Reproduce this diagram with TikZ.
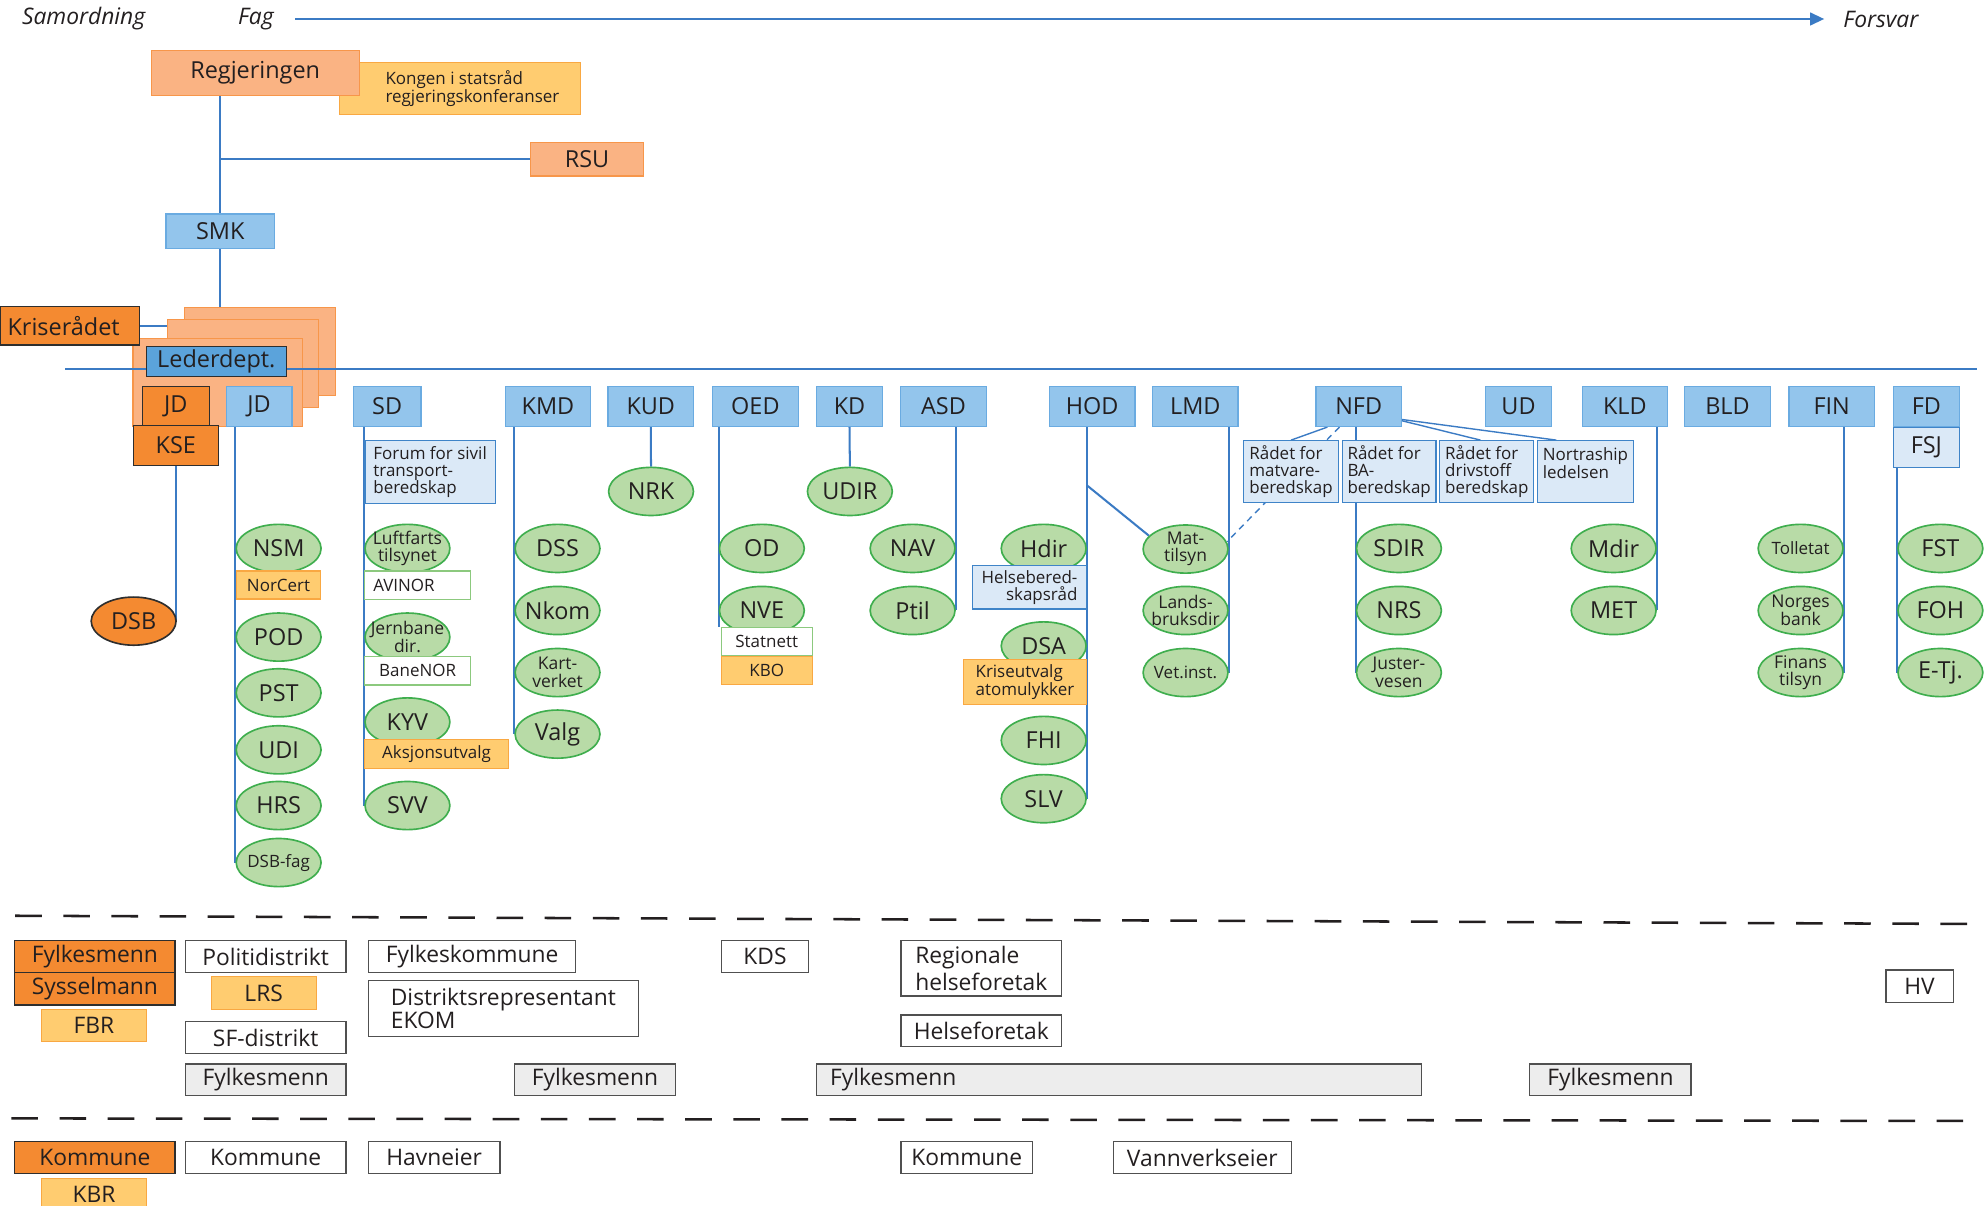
\documentclass[tikz,border=0pt]{standalone}
\usepackage{fontspec}
\setmainfont{Open Sans}
\usetikzlibrary{shapes.geometric, arrows.meta}
\pgfdeclarelayer{bg}
\pgfsetlayers{bg,main}

\definecolor{govfill}{HTML}{FAB383}
\definecolor{govline}{HTML}{F7964A}
\definecolor{krisefill}{HTML}{F48A31}
\definecolor{darkline}{HTML}{2E2E2E}
\definecolor{suppfill}{HTML}{FFCC70}
\definecolor{suppline}{HTML}{F9A842}
\definecolor{deptfill}{HTML}{93C5EC}
\definecolor{deptline}{HTML}{6AABE1}
\definecolor{leadfill}{HTML}{5BA3DB}
\definecolor{councilfill}{HTML}{DBE9F7}
\definecolor{councilline}{HTML}{3F84C8}
\definecolor{agfill}{HTML}{B8DBA7}
\definecolor{agline}{HTML}{3FAE4E}
\definecolor{compline}{HTML}{8CC97E}
\definecolor{connblue}{HTML}{3B7BC4}
\definecolor{txt}{HTML}{231F20}
\definecolor{greyfill}{HTML}{EDEDED}
\definecolor{localline}{HTML}{505050}

\newcommand{\fbig}{\fontsize{18.5}{20}\selectfont}
\newcommand{\fsmall}{\fontsize{13.4}{13.6}\selectfont}
\newcommand{\flocal}{\fontsize{18}{20}\selectfont}
\newcommand{\fhead}{\fontsize{18}{20}\selectfont}

\tikzset{
  basebox/.style={draw, line width=0.9pt, inner sep=0pt, text=txt, font=\fbig},
  gov/.style={basebox, draw=govline, fill=govfill},
  krise/.style={basebox, draw=darkline, fill=krisefill},
  supp/.style={basebox, draw=suppline, fill=suppfill, font=\fsmall},
  dept/.style={basebox, draw=deptline, fill=deptfill, minimum width=67.5pt, minimum height=31.5pt},
  council/.style={basebox, draw=councilline, fill=councilfill, font=\fsmall, align=left, minimum height=49pt},
  company/.style={basebox, draw=compline, fill=white, font=\fsmall, minimum width=83.4pt, minimum height=22.2pt},
  agency/.style={ellipse, draw=agline, fill=agfill, line width=1.3pt, minimum width=67pt, minimum height=38pt,
    inner xsep=-5pt, inner ysep=0pt, text=txt, font=\fbig},
  twoline/.style={font=\fontsize{13.8}{13.8}\selectfont, align=center, inner xsep=-6pt, inner ysep=-2pt},
  localbox/.style={basebox, draw=localline, fill=white, font=\flocal, minimum height=25pt},
  greybox/.style={localbox, fill=greyfill},
  conn/.style={draw=connblue, line width=1.6pt},
  levelsep/.style={draw=txt, line width=2pt, dash pattern=on 21pt off 17pt},
  heading/.style={font=\fhead\itshape, text=txt, inner sep=0pt}
}

\begin{document}
\begin{tikzpicture}[x=1pt, y=-1pt]
      \useasboundingbox (0,0) rectangle (1568,952);
      \begin{pgfonlayer}{bg}
        \fill[white] (0,0) rectangle (1568,952);
      \end{pgfonlayer}

      % Define nodes
      \node[heading] (samordning) at (66,15) {Samordning};
      \node[heading] (fag) at (202,15) {Fag};
      \node[heading] (forsvar) at (1485,15) {Forsvar};

      \node[supp, minimum width=190pt, minimum height=41pt, align=left] (kongen) at (363,69.9)
        {\hspace*{20pt}Kongen i statsråd\\\hspace*{20pt}regjeringskonferanser};
      \node[gov, minimum width=164pt, minimum height=35.5pt] (regjeringen) at (201.5,57.8) {Regjeringen};
      \node[gov, minimum width=89pt, minimum height=26.4pt] (rsu) at (463.5,125.8) {RSU};
      \node[dept, minimum width=85.7pt, minimum height=27pt] (smk) at (173.9,182.5) {SMK};

      \node[krise, minimum width=110pt, minimum height=30.6pt, text width=98pt, inner xsep=6pt, align=left] (kriseradet) at (55,257.1) {Kriserådet};
      \node[dept, fill=leadfill, draw=darkline, minimum width=110.4pt, minimum height=23.7pt] (lederdept) at (170.8,285.5) {Lederdept.};
      \node[krise, minimum width=53pt, minimum height=30.7pt] (jdk) at (138.8,320.7) {JD};
      \node[krise, minimum width=67pt, minimum height=31.6pt] (kse) at (138.8,351.8) {KSE};
      \node[agency, fill=krisefill, draw=darkline] (dsb) at (105.5,490.4) {DSB};

      % Departments
      \node[dept, minimum width=52pt] (jd) at (204.5,321) {JD};
      \node[dept, minimum width=53.4pt] (sd) at (305.7,321) {SD};
      \node[dept] (kmd) at (432.6,321) {KMD};
      \node[dept] (kud) at (513.8,321) {KUD};
      \node[dept] (oed) at (596.4,321) {OED};
      \node[dept, minimum width=52.7pt] (kd) at (670.7,321) {KD};
      \node[dept] (asd) at (744.9,321) {ASD};
      \node[dept] (hod) at (862.3,321) {HOD};
      \node[dept] (lmd) at (943.7,321) {LMD};
      \node[dept] (nfd) at (1072.7,321) {NFD};
      \node[dept, minimum width=52.2pt] (ud) at (1198.9,321) {UD};
      \node[dept] (kld) at (1282.9,321) {KLD};
      \node[dept] (bld) at (1363.9,321) {BLD};
      \node[dept] (fin) at (1446.2,321) {FIN};
      \node[dept, minimum width=52.3pt] (fd) at (1520.9,321) {FD};
      \node[council, font=\fbig, align=center, minimum width=52.3pt, minimum height=31.8pt] (fsj) at (1520.9,353.3) {FSJ};

      % JD
      \node[agency] (nsm) at (220,433) {NSM};
      \node[supp, minimum width=66.3pt, minimum height=22.1pt] (norcert) at (219.9,461.9) {NorCert};
      \node[agency] (pod) at (220,503) {POD};
      \node[agency] (pst) at (220,547) {PST};
      \node[agency] (udi) at (220,592) {UDI};
      \node[agency] (hrs) at (220,636) {HRS};
      \node[agency, font=\fsmall] (dsbfag) at (220,681) {DSB-fag};

      % SD
      \node[council, minimum width=102.8pt, minimum height=49.5pt] (forum) at (339.6,372.7) {Forum for sivil\\transport-\\beredskap};
      \node[agency, twoline] (luftfart) at (321.7,433) {Luftfarts\\tilsynet};
      \node[company, text width=70pt, inner xsep=6.7pt, align=left] (avinor) at (329.7,461.9) {AVINOR};
      \node[agency, twoline] (jernbane) at (321.7,503) {Jernbane\\dir.};
      \node[company] (banenor) at (329.7,529.7) {BaneNOR};
      \node[agency] (kyv) at (321.7,570) {KYV};
      \node[supp, minimum width=113.3pt, minimum height=22.9pt] (aksjon) at (344.7,595.2) {Aksjonsutvalg};
      \node[agency] (svv) at (321.7,636) {SVV};

      % KMD, KUD, OED, KD, ASD
      \node[agency] (dss) at (440.2,433) {DSS};
      \node[agency] (nkom) at (440.2,482) {Nkom};
      \node[agency, twoline] (kartverket) at (440.2,531) {Kart-\\verket};
      \node[agency] (valg) at (440.2,579.6) {Valg};
      \node[agency] (nrk) at (514,388) {NRK};
      \node[agency] (od) at (601.5,433) {OD};
      \node[agency] (nve) at (601.5,482) {NVE};
      \node[company, minimum width=72pt, minimum height=22pt] (statnett) at (605.3,506.6) {Statnett};
      \node[supp, minimum width=72pt, minimum height=22pt] (kbo) at (605.3,529.4) {KBO};
      \node[agency] (udir) at (671,388) {UDIR};
      \node[agency] (nav) at (720.5,433) {NAV};
      \node[agency] (ptil) at (720.5,482) {Ptil};

      % HOD, LMD
      \node[agency] (hdir) at (824,433) {Hdir};
      \node[council, align=right, minimum width=89.4pt, minimum height=34pt] (helserad) at (812.8,463.8) {Helsebered-\\skapsråd};
      \node[agency] (dsa) at (824,510) {DSA};
      \node[supp, align=left, minimum width=97.3pt, minimum height=35pt] (kriseutvalg) at (809.2,538.5) {Kriseutvalg\\atomulykker};
      \node[agency] (fhi) at (824,584.6) {FHI};
      \node[agency] (slv) at (824,630.6) {SLV};
      \node[agency, twoline] (mattilsyn) at (936,433.5) {Mat-\\tilsyn};
      \node[agency, twoline] (landsbruk) at (936,482) {Lands-\\bruksdir};
      \node[agency, font=\fsmall] (vetinst) at (936,531) {Vet.inst.};

      % NFD
      \node[council, minimum width=74.7pt, minimum height=48.9pt] (matvare) at (1019.3,372.4) {Rådet for\\matvare-\\beredskap};
      \node[council, minimum width=73.9pt, minimum height=48.9pt] (ba) at (1096.8,372.4) {Rådet for\\BA-\\beredskap};
      \node[council, minimum width=74.3pt, minimum height=48.9pt] (drivstoff) at (1173.9,372.4) {Rådet for\\drivstoff\\beredskap};
      \node[council, minimum width=75.6pt, minimum height=48.9pt] (nortraship) at (1251.8,372.4) {Nortraship\\ledelsen\\\mbox{}};
      \node[agency] (sdir) at (1104.5,433) {SDIR};
      \node[agency] (nrs) at (1104.5,482) {NRS};
      \node[agency, twoline] (justervesen) at (1104.5,531) {Juster-\\vesen};

      % KLD, FIN, FD
      \node[agency] (mdir) at (1274,433) {Mdir};
      \node[agency] (met) at (1274,482) {MET};
      \node[agency, font=\fsmall] (tolletat) at (1421.6,433) {Tolletat};
      \node[agency, twoline] (norgesbank) at (1421.6,482) {Norges\\bank};
      \node[agency, twoline] (finanstilsyn) at (1421.6,531) {Finans\\tilsyn};
      \node[agency] (fst) at (1532,433) {FST};
      \node[agency] (foh) at (1532,482) {FOH};
      \node[agency] (etj) at (1532,531) {E-Tj.};

      % Regional and local level
      \node[krise, font=\flocal, minimum width=126.6pt, minimum height=25pt] (fylkesmannK) at (74.9,755.2) {Fylkesmenn};
      \node[krise, font=\flocal, minimum width=126.6pt, minimum height=25.8pt] (sysselmann) at (74.9,780.6) {Sysselmann};
      \node[supp, font=\flocal, minimum width=82.8pt, minimum height=25.4pt] (fbr) at (74.2,809.7) {FBR};
      \node[localbox, minimum width=126.9pt] (politi) at (209.75,755.2) {Politidistrikt};
      \node[supp, font=\flocal, minimum width=82.9pt, minimum height=26pt] (lrs) at (208.2,784) {LRS};
      \node[localbox, minimum width=126.9pt] (sfdistrikt) at (209.75,819.1) {SF-distrikt};
      \node[greybox, minimum width=126.9pt] (fylkesmannA) at (209.75,852.6) {Fylkesmenn};
      \node[localbox, minimum width=163.9pt] (fylkeskommune) at (372.75,755.2) {Fylkeskommune};
      \node[localbox, align=left, minimum width=213.2pt, minimum height=44.2pt, font=\fontsize{18}{18.5}\selectfont] (ekom) at (397.4,796.4) {Distriktsrepresentant\\EKOM};
      \node[greybox, minimum width=126.6pt] (fylkesmannB) at (469.7,852.6) {Fylkesmenn};
      \node[localbox, minimum width=68.8pt] (kds) at (604,755.3) {KDS};
      \node[localbox, align=left, minimum width=126.9pt, minimum height=43.7pt, font=\fontsize{18}{21}\selectfont] (regionale) at (774.75,764.5) {Regionale\\helseforetak};
      \node[localbox, minimum width=126.9pt] (helseforetak) at (774.75,813.9) {Helseforetak};
      \node[greybox, text width=456pt, inner xsep=11pt, align=left] (fylkesmannC) at (883.45,852.6) {Fylkesmenn};
      \node[greybox, minimum width=127.2pt] (fylkesmannD) at (1271.5,852.6) {Fylkesmenn};
      \node[localbox, minimum width=53pt, minimum height=25.7pt] (hv) at (1515.5,778.7) {HV};
      \node[krise, font=\flocal, minimum width=126.6pt, minimum height=25pt] (kommuneK) at (74.9,913.9) {Kommune};
      \node[supp, font=\flocal, minimum width=82.8pt, minimum height=25pt] (kbr) at (74.2,942.7) {KBR};
      \node[localbox, minimum width=126.9pt] (kommuneA) at (209.75,913.9) {Kommune};
      \node[localbox, minimum width=104pt] (havneier) at (342.8,913.9) {Havneier};
      \node[localbox, minimum width=104pt] (kommuneB) at (763.3,913.9) {Kommune};
      \node[localbox, minimum width=141pt] (vannverk) at (949.3,913.9) {Vannverkseier};

      % Level lines
      \draw[conn, -{Triangle[length=11pt, width=10pt]}] ([xshift=17pt]fag.east) -- ([xshift=-15pt]forsvar.west);
      \coordinate (sepAL) at (12,723);
      \coordinate (sepAR) at (1558,729.5);
      \coordinate (sepBL) at (9,883);
      \coordinate (sepBR) at (1555,885);
      \draw[levelsep] (sepAL) -- (sepAR);
      \draw[levelsep] (sepBL) -- (sepBR);

      \begin{pgfonlayer}{bg}
        \node[gov, minimum width=119.5pt, minimum height=69.8pt] (stackA) at (205.3,277.5) {};
        \node[gov, minimum width=119.5pt, minimum height=69.6pt] (stackB) at (191.8,286.8) {};
        \node[gov, minimum width=134pt, minimum height=70pt] (stackC) at (172,302) {};
        \coordinate (levelL) at (51.5,291.3);
        \coordinate (levelR) at (1561,291.3);
        \draw[conn] (levelL) -- (levelR);

        % Connect nodes
        \coordinate (rsubranch) at (smk.north |- rsu.west);
        \draw[conn] (smk.north) -- (smk.north |- regjeringen.south);
        \draw[conn] (rsubranch) -- (rsu.west);
        \draw[conn] (smk.south) -- (smk.south |- stackA.north);
        \draw[conn] (kriseradet.east) -- (kriseradet.east -| stackB.west);
        \draw[conn] (kse.south) -- (kse.south |- dsb.east);

        \draw[conn] (jd.south -| dsbfag.west) -- (dsbfag.west);
        \draw[conn] (sd.south -| svv.west) -- (svv.west);
        \draw[conn] (kmd.south -| valg.west) -- (valg.west);
        \draw[conn] (kud.south) -- (nrk.north);
        \draw[conn] (oed.south -| nve.west) -- (nve.west |- statnett.north);
        \draw[conn] (kd.south) -- (udir.north);
        \draw[conn] (asd.south -| ptil.east) -- (ptil.east);
        \draw[conn] (hod.south -| slv.east) -- (slv.east);
        \path (hod.south -| slv.east) ++(0,46) coordinate (hodbranch);
        \draw[conn] (hodbranch) -- (mattilsyn.160);
        \draw[conn] (lmd.south -| vetinst.east) -- (vetinst.east);
        \draw[conn] (nfd.south -| justervesen.west) -- (justervesen.west);
        \draw[conn, line width=1.1pt] ([xshift=9.5pt]nfd.south west) -- (matvare.north);
        \draw[conn, line width=1.1pt, dash pattern=on 5pt off 4pt] ([xshift=19pt]nfd.south west) -- (mattilsyn.10);
        \draw[conn, line width=1.1pt] ([yshift=5pt]nfd.south east) -- ([xshift=-5pt]drivstoff.north);
        \draw[conn, line width=1.1pt] ([yshift=6pt]nfd.south east) -- ([xshift=-23pt]nortraship.north);
        \draw[conn] (kld.south -| met.east) -- (met.east);
        \draw[conn] (fin.south -| finanstilsyn.east) -- (finanstilsyn.east);
        \draw[conn] (fsj.south -| etj.west) -- (etj.west);
      \end{pgfonlayer}
    \end{tikzpicture}
\end{document}
